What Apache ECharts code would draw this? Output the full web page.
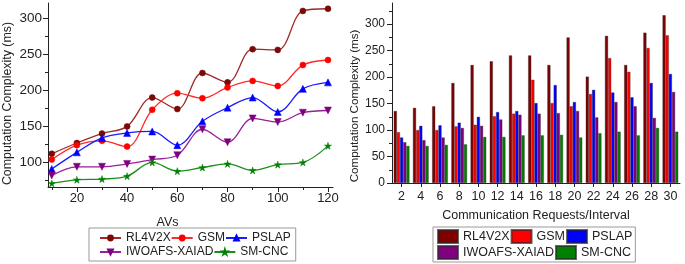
<!DOCTYPE html>
<html>
<head>
<meta charset="utf-8">
<script src="https://cdn.jsdelivr.net/npm/echarts@6/dist/echarts.min.js"></script>
<style>
html, body { margin: 0; padding: 0; background: #fff; }
#chart { width: 685px; height: 264px; }
</style>
</head>
<body>
<div id="chart"></div>
<script>
// left panel: computation complexity vs number of AVs
var avs = [10, 20, 30, 40, 50, 60, 70, 80, 90, 100, 110, 120];
var rl4v2xLine = [112, 127, 140, 150, 190, 174, 224, 211, 257, 256, 310, 313];
var gsmLine = [104, 124, 130, 122, 173, 196, 189, 204, 213, 206, 235, 242];
var pslapLine = [91, 114, 134, 141, 143, 124, 157, 176, 190, 170, 202, 211];
var iwoafsLine = [82, 94, 94, 98, 104, 110, 146, 128, 161, 156, 169, 172];
var smcncLine = [71, 76, 77, 81, 100, 88, 93, 98, 89, 97, 100, 123];

// right panel: computation complexity vs communication requests/interval
var requests = ['2', '4', '6', '8', '10', '12', '14', '16', '18', '20', '22', '24', '26', '28', '30'];
var rl4v2xBar = [136, 142, 145, 189, 223, 230, 241, 241, 223, 275, 201, 278, 223, 284, 317];
var gsmBar = [96, 100, 100, 107, 110, 126, 131, 195, 151, 145, 168, 236, 210, 255, 279];
var pslapBar = [86, 108, 109, 114, 125, 134, 136, 151, 185, 153, 176, 171, 162, 189, 206];
var iwoafsBar = [77, 81, 86, 104, 108, 120, 129, 131, 132, 136, 124, 153, 145, 123, 172];
var smcncBar = [70, 70, 72, 73, 87, 87, 90, 90, 91, 86, 94, 97, 90, 104, 97];

// tick labels
var leftXTicks = [20, 40, 60, 80, 100, 120];
var leftXMinor = [10, 30, 50, 70, 90, 110];
var leftYTicks = [100, 150, 200, 250, 300];
var leftYMinor = [75, 125, 175, 225, 275];
var rightYTicks = [0, 50, 100, 150, 200, 250, 300];
var rightYMinor = [25, 75, 125, 175, 225, 275, 325];

var FONT = 'Liberation Sans';
var STAR = 'path://M50,0 L61,35 L98,35 L68,57 L79,91 L50,70 L21,91 L32,57 L2,35 L39,35 Z';
var DOWN_TRI = 'path://M0,0 L10,0 L5,9 Z';

var chart = echarts.init(document.getElementById('chart'));

function pairs(xs, ys) {
    var out = [];
    for (var i = 0; i < xs.length; i++) out.push([xs[i], ys[i]]);
    return out;
}

function lineSeries(name, data, color, lineColor, symbol, size) {
    return {
        type: 'line',
        name: name,
        xAxisIndex: 0,
        yAxisIndex: 0,
        data: pairs(avs, data),
        smooth: 0.35,
        symbol: symbol,
        symbolSize: size,
        itemStyle: { color: color, borderColor: color, borderWidth: 0.5 },
        lineStyle: { color: lineColor, width: 1.3 },
        emphasis: { disabled: true }
    };
}

function barSeries(name, data, color) {
    return {
        type: 'bar',
        name: name + ' bar',
        xAxisIndex: 2,
        yAxisIndex: 2,
        data: data,
        barGap: 0,
        barCategoryGap: '18%',
        itemStyle: { color: color, borderColor: 'rgba(40,40,40,0.7)', borderWidth: 0.5 },
        emphasis: { disabled: true }
    };
}

var axisLine = { show: true, lineStyle: { color: '#222', width: 1 } };

var option = {
    animation: false,
    textStyle: { fontFamily: FONT },
    grid: [
        { left: 48, right: 352, top: 3, bottom: 77 },
        { left: 392, right: 5, top: 3, bottom: 81 }
    ],
    xAxis: [
        {
            type: 'value', gridIndex: 0, position: 'bottom', min: 8.5, max: 122,
            axisLine: axisLine, splitLine: { show: false },
            axisTick: { show: true, length: 5, customValues: leftXTicks, lineStyle: { color: '#222' } },
            axisLabel: { customValues: leftXTicks, fontSize: 13, color: '#222', margin: 5, fontFamily: FONT },
            name: 'AVs', nameLocation: 'middle', nameGap: 29,
            nameTextStyle: { fontSize: 12.5, color: '#222', fontFamily: FONT, padding: [0, 46, 0, 0] }
        },
        {
            type: 'value', gridIndex: 0, position: 'bottom', min: 8.5, max: 122,
            axisLine: { show: false }, splitLine: { show: false }, axisLabel: { show: false },
            axisTick: { show: true, length: 3, customValues: leftXMinor, lineStyle: { color: '#222' } }
        },
        {
            type: 'category', gridIndex: 1, position: 'bottom', data: requests,
            axisLine: axisLine, splitLine: { show: false },
            axisTick: { show: true, length: 4, alignWithLabel: true, interval: 0, lineStyle: { color: '#222' } },
            axisLabel: { fontSize: 12.5, color: '#222', margin: 7, interval: 0, fontFamily: FONT },
            name: 'Communication Requests/Interval', nameLocation: 'middle', nameGap: 26,
            nameTextStyle: { fontSize: 12.5, color: '#222', fontFamily: FONT }
        }
    ],
    yAxis: [
        {
            type: 'value', gridIndex: 0, position: 'left', min: 66, max: 321,
            axisLine: axisLine, splitLine: { show: false },
            axisTick: { show: true, length: 5, customValues: leftYTicks, lineStyle: { color: '#222' } },
            axisLabel: { customValues: leftYTicks, fontSize: 13.5, color: '#222', margin: 6, fontFamily: FONT },
            name: 'Computation Complexity (ms)', nameLocation: 'middle', nameGap: 34,
            nameTextStyle: { fontSize: 12.4, color: '#222', fontFamily: FONT, padding: [0, 17, 0, 0] }
        },
        {
            type: 'value', gridIndex: 0, position: 'left', min: 66, max: 321,
            axisLine: { show: false }, splitLine: { show: false }, axisLabel: { show: false },
            axisTick: { show: true, length: 3, customValues: leftYMinor, lineStyle: { color: '#222' } }
        },
        {
            type: 'value', gridIndex: 1, position: 'left', min: 0, max: 340,
            axisLine: axisLine, splitLine: { show: false },
            axisTick: { show: true, length: 5, customValues: rightYTicks, lineStyle: { color: '#222' } },
            axisLabel: { customValues: rightYTicks, fontSize: 12, color: '#222', margin: 7, fontFamily: FONT },
            name: 'Computation Complexity (ms)', nameLocation: 'middle', nameGap: 31,
            nameTextStyle: { fontSize: 11.6, color: '#222', fontFamily: FONT, padding: [0, 26, 0, 0] }
        },
        {
            type: 'value', gridIndex: 1, position: 'left', min: 0, max: 340,
            axisLine: { show: false }, splitLine: { show: false }, axisLabel: { show: false },
            axisTick: { show: true, length: 3, customValues: rightYMinor, lineStyle: { color: '#222' } }
        }
    ],
    legend: [
        {
            left: 89, top: 228, itemGap: 0, itemWidth: 21, itemHeight: 6,
            padding: [3, 5, 2, 10], borderColor: '#999', borderWidth: 1,
            selectedMode: false,
            textStyle: { fontSize: 12, color: '#222', fontFamily: FONT, lineHeight: 14 },
            data: ['RL4V2X', 'GSM', 'PSLAP', '\n', 'IWOAFS-XAIAD', 'SM-CNC']
        },
        {
            left: 433, top: 227, itemGap: 1, itemWidth: 20, itemHeight: 13, icon: 'rect',
            padding: [2, 3, 2, 4], borderColor: '#999', borderWidth: 1,
            selectedMode: false,
            textStyle: { fontSize: 12.5, color: '#222', fontFamily: FONT },
            formatter: function (n) { return n.replace(' bar', ''); },
            data: ['RL4V2X bar', 'GSM bar', 'PSLAP bar', '\n', 'IWOAFS-XAIAD bar', 'SM-CNC bar']
        }
    ],
    series: [
        lineSeries('RL4V2X', rl4v2xLine, '#7a0a0a', '#a02828', 'circle', 6),
        lineSeries('GSM', gsmLine, '#ff0000', '#ff2a2a', 'circle', 6),
        lineSeries('PSLAP', pslapLine, '#0000ff', '#1a1aff', 'triangle', 7),
        lineSeries('IWOAFS-XAIAD', iwoafsLine, '#800080', '#962096', DOWN_TRI, 7),
        lineSeries('SM-CNC', smcncLine, '#008000', '#1a901a', STAR, 7),
        barSeries('RL4V2X', rl4v2xBar, '#800000'),
        barSeries('GSM', gsmBar, '#ff0000'),
        barSeries('PSLAP', pslapBar, '#0000ff'),
        barSeries('IWOAFS-XAIAD', iwoafsBar, '#800080'),
        barSeries('SM-CNC', smcncBar, '#008000')
    ]
};

chart.setOption(option);
</script>
</body>
</html>
